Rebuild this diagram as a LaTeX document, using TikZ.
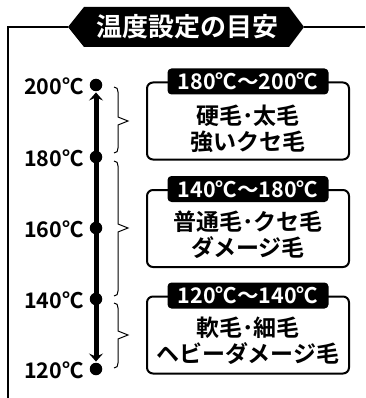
\documentclass[tikz,border=0pt]{standalone}
\usepackage{fontspec}
\setmainfont{Noto Sans CJK JP Bold}
\usetikzlibrary{arrows.meta}
\tikzset{
  frame/.style={line width=1.5pt},
  axisline/.style={line width=5pt, shorten <=1pt, shorten >=1pt,
    {Stealth[length=8pt,width=14pt,inset=3pt]}-{Stealth[length=8pt,width=14pt,inset=3pt]}},
  dot/.style={circle, fill, inner sep=0pt, minimum size=12.5pt},
  tempbox/.style={draw, line width=2pt, rounded corners=6pt, minimum width=202pt, minimum height=77pt, inner sep=0pt},
  rangelabel/.style={fill, text=white, rounded corners=4pt, minimum width=161pt, minimum height=26pt, inner sep=0pt, font=\fontsize{21.5}{21.5}\selectfont},
  hairtext/.style={align=center, inner sep=0pt, font=\fontsize{23}{25.5}\selectfont},
  templabel/.style={anchor=east, inner sep=0pt, font=\fontsize{21.5}{21.5}\selectfont},
  bracestyle/.style={line width=1pt},
  titletext/.style={text=white, inner sep=0pt, font=\fontsize{26}{26}\selectfont}
}
\newcommand\drawbrace[3]{%
  \draw[bracestyle] (114,#1) .. controls (117,#1) and (118,{#1+2}) .. (118,{#1+5})
    -- (118,{#2-4}) -- (128,#2) -- (118,{#2+4}) -- (118,{#3-5})
    .. controls (118,{#3-2}) and (117,#3) .. (114,#3);}
\begin{document}
\begin{tikzpicture}[x=1pt,y=-1pt]
\useasboundingbox (0,0) rectangle (365,398);
% title banner
\fill (68,27) -- (84,7) -- (289,7) -- (304,27) -- (289,47) -- (84,47) -- cycle;
\coordinate (tl) at (68,27);
\coordinate (tr) at (304,27);
\coordinate (fr) at (365,27);
\coordinate (fc) at (8,27);
\coordinate (fb) at (8,398);
\node[titletext] (title) at (187,27) {温度設定の目安};
\draw[frame] (fb) -- (fc) -- (tl);
\draw[frame] (tr) -- (fr);
% axis
\node[dot] (d200) at (96,85) {};
\node[dot] (d180) at (96,157) {};
\node[dot] (d160) at (96,228) {};
\node[dot] (d140) at (96,299) {};
\node[dot] (d120) at (96,369) {};
\draw[axisline] (d200) -- (d120);
\node[templabel] (l200) at (84,86) {200℃};
\node[templabel] (l180) at (84,158) {180℃};
\node[templabel] (l160) at (84,229) {160℃};
\node[templabel] (l140) at (84,300) {140℃};
\node[templabel] (l120) at (84,370) {120℃};
% braces
\drawbrace{87}{121}{153}
\drawbrace{161}{228}{296}
\drawbrace{303}{335}{368}
% boxes
\node[tempbox] (b1) at (248,121) {};
\node[tempbox] (b2) at (248,228.5) {};
\node[tempbox] (b3) at (248,335) {};
\node[rangelabel] (r1) at (b1.north) {180℃～200℃};
\node[rangelabel] (r2) at (b2.north) {140℃～180℃};
\node[rangelabel] (r3) at (b3.north) {120℃～140℃};
\node[hairtext] (t1) at ([yshift=-8pt]b1.center) {硬毛･太毛\\強いクセ毛};
\node[hairtext] (t2) at ([yshift=-6pt]b2.center) {普通毛･クセ毛\\ダメージ毛};
\node[hairtext] (t3) at ([yshift=-6pt]b3.center) {軟毛･細毛\\ヘビーダメージ毛};
\end{tikzpicture}
\end{document}
